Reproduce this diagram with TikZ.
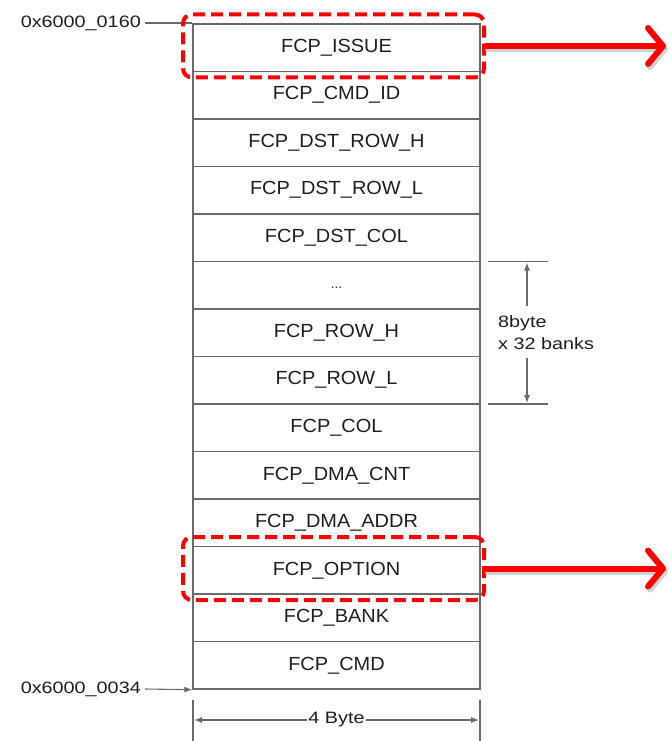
\documentclass[tikz,border=0pt]{standalone}
\usepackage{fontspec}
\setmainfont{Liberation Sans}
\newfontfamily\boxfont[FakeStretch=1.05]{Liberation Sans}
\newfontfamily\sidefont[FakeStretch=1.2]{Liberation Sans}
\usetikzlibrary{arrows.meta}
\definecolor{linegray}{HTML}{6A6A6A}
\definecolor{txt}{HTML}{1E1E1E}
\begin{document}
\begin{tikzpicture}[x=1pt,y=-1pt,
  cell/.style={draw=linegray, line width=1.4pt, minimum width=287pt, minimum height=47.5pt,
    inner sep=0pt, font=\boxfont\fontsize{19}{22}\selectfont, text=txt},
  side/.style={font=\sidefont\fontsize{16.5}{22}\selectfont, text=txt, inner sep=0pt},
  hl/.style={draw=red, line width=4pt, dash pattern=on 12pt off 6pt, rounded corners=9pt,
    minimum width=301pt, minimum height=63pt, inner sep=0pt},
  redarrow/.style={draw=red, line width=6pt, line cap=round,
    -{Straight Barb[length=15pt,width=36pt,round]}},
  shadowarrow/.style={draw=black!18, line width=6pt, line cap=round,
    -{Straight Barb[length=15pt,width=36pt,round]}},
  thinline/.style={draw=linegray, line width=1.1pt},
  tip/.style={thinline, -{Latex[length=8pt,width=6pt]}},
  dtip/.style={thinline, {Latex[length=8pt,width=6pt]}-{Latex[length=8pt,width=6pt]}}
]
\useasboundingbox (0,0) rectangle (671,741);

% memory rows
\node[cell] (r1)  at (336.5,47.75)  {FCP\_ISSUE};
\node[cell] (r2)  at (336.5,95.25)  {FCP\_CMD\_ID};
\node[cell] (r3)  at (336.5,142.75) {FCP\_DST\_ROW\_H};
\node[cell] (r4)  at (336.5,190.25) {FCP\_DST\_ROW\_L};
\node[cell] (r5)  at (336.5,237.75) {FCP\_DST\_COL};
\node[cell] (r6)  at (336.5,285.25) {\raisebox{-7pt}{\fontsize{13}{15}\selectfont ...}};
\node[cell] (r7)  at (336.5,332.75) {FCP\_ROW\_H};
\node[cell] (r8)  at (336.5,380.25) {FCP\_ROW\_L};
\node[cell] (r9)  at (336.5,427.75) {FCP\_COL};
\node[cell] (r10) at (336.5,475.25) {FCP\_DMA\_CNT};
\node[cell] (r11) at (336.5,522.75) {FCP\_DMA\_ADDR};
\node[cell] (r12) at (336.5,570.25) {FCP\_OPTION};
\node[cell] (r13) at (336.5,617.75) {FCP\_BANK};
\node[cell] (r14) at (336.5,665.25) {FCP\_CMD};

% addresses
\node[side, anchor=east] (a1) at (141,23) {0x6000\_0160};
\node[side, anchor=east] (a2) at (141,689) {0x6000\_0034};
\draw[thinline] ([xshift=4pt]a1.east) -- (a1.east -| r1.west);
\draw[tip] ([xshift=4pt]a2.east) -- (r14.south west);

% highlights
\node[hl] (h1) at (333.5,46) {};
\node[hl] (h2) at (333.5,568.5) {};
\coordinate (e1) at (666,46);
\coordinate (e2) at (666,568.5);
\draw[shadowarrow] ([shift={(2,3)}]h1.east) -- ([shift={(2,3)}]e1);
\draw[shadowarrow] ([shift={(2,3)}]h2.east) -- ([shift={(2,3)}]e2);
\draw[redarrow] (h1.east) -- (e1);
\draw[redarrow] (h2.east) -- (e2);

% 8byte x 32 banks dimension
\coordinate (c1) at (488,261.5);
\coordinate (c2) at (548,261.5);
\coordinate (c3) at (488,404);
\coordinate (c4) at (548,404);
\draw[thinline] (c1) -- (c2);
\draw[thinline] (c3) -- (c4);
\node[side, anchor=west, align=left] (lab) at (498,333) {8byte\\x 32 banks};
\coordinate (v1) at (527,306);
\coordinate (v2) at (527,262.5);
\coordinate (v3) at (527,358);
\coordinate (v4) at (527,403);
\draw[tip] (v1) -- (v2);
\draw[tip] (v3) -- (v4);

% 4 Byte dimension
\coordinate (b1) at (193,700);
\coordinate (b2) at (193,741);
\coordinate (b3) at (480,700);
\coordinate (b4) at (480,741);
\draw[thinline] (b1) -- (b2);
\draw[thinline] (b3) -- (b4);
\coordinate (w1) at (194,720);
\coordinate (w2) at (479,720);
\draw[dtip] (w1) -- (w2);
\node[side, fill=white, inner xsep=1pt, inner ysep=2pt] (wl) at (336.5,720) {4 Byte};
\end{tikzpicture}
\end{document}
